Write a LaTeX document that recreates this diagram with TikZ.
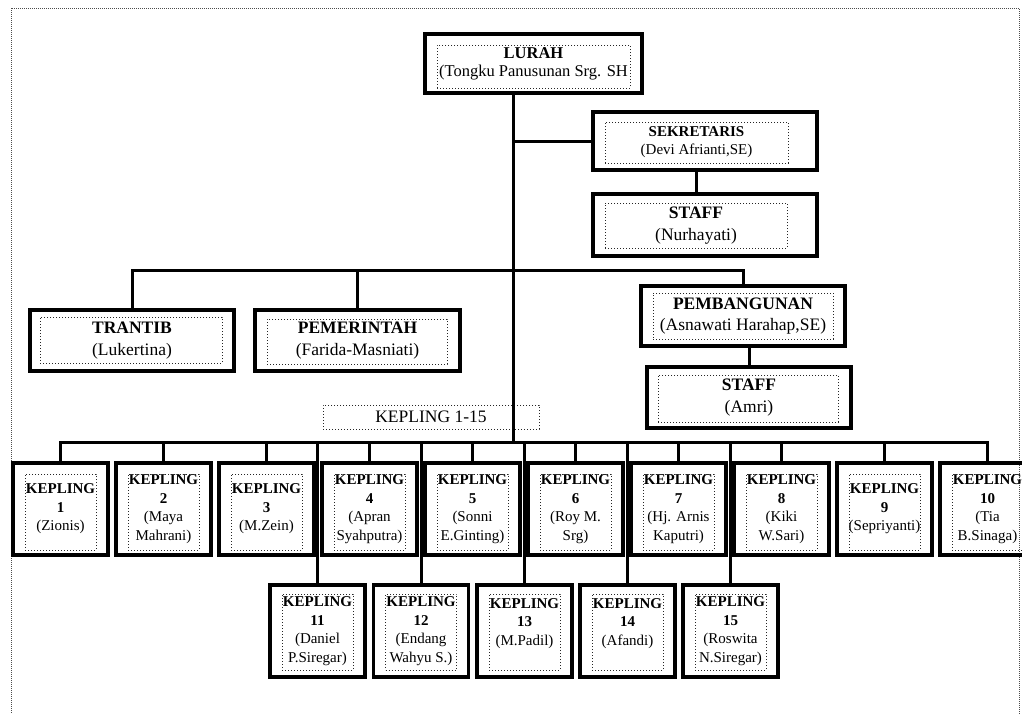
\documentclass[tikz,border=0pt]{standalone}
\usepackage{fontspec}
\setmainfont{Liberation Serif}
\newcommand\kep[5]{%
  \node[kout] (#1) at (#2,#3) {#5};
  \node[kin] (#1d) at (#2,#4) {};}
\begin{document}
\begin{tikzpicture}[x=1pt,y=-1pt,
  obox/.style={draw, line width=3.2pt, inner sep=0pt, align=center},
  ibox/.style={draw=black!85, dotted, line width=1pt, inner sep=0pt, align=center},
  conn/.style={line width=3pt, line cap=rect},
  big/.style={font=\fontsize{17.5}{21.5}\selectfont},
  kfont/.style={font=\fontsize{15}{18.5}\selectfont},
  kout/.style={obox, kfont, minimum width=95, minimum height=92},
  kin/.style={ibox, minimum width=71, minimum height=76}]

\useasboundingbox (0,0) rectangle (1022,713);
\draw[black!70, line width=1pt, dash pattern=on 1pt off 1pt] (11,8) rectangle (1019,730);

% top boxes
\node[obox, minimum width=217, minimum height=59, font=\fontsize{16.5}{18}\selectfont] (lurah) at (533.5,63.5) {\textbf{LURAH}\\(Tongku Panusunan Srg. SH};
\node[ibox, minimum width=193, minimum height=43] (lurahd) at (533.5,66.5) {};

\node[obox, minimum width=224, minimum height=58] (sek) at (705,141) {};
\node[ibox, minimum width=183, minimum height=41, font=\fontsize{15}{18}\selectfont] (sekd) at (696.5,142.5) {\textbf{SEKRETARIS}\\(Devi Afrianti,SE)};

\node[obox, minimum width=224, minimum height=62] (staffa) at (705,225) {};
\node[ibox, big, minimum width=182, minimum height=45] (staffad) at (696,225.5) {\textbf{STAFF}\\(Nurhayati)};

\node[obox, big, minimum width=204, minimum height=61] (trantib) at (132,340.5) {\textbf{TRANTIB}\\(Lukertina)};
\node[ibox, minimum width=182, minimum height=46] (trantibd) at (131,340) {};

\node[obox, big, minimum width=205, minimum height=61] (pemer) at (357.5,340.5) {\textbf{PEMERINTAH}\\(Farida-Masniati)};
\node[ibox, minimum width=180, minimum height=45] (pemerd) at (357,341.5) {};

\node[obox, big, minimum width=204, minimum height=60] (pemb) at (743,316) {\textbf{PEMBANGUNAN}\\(Asnawati Harahap,SE)};
\node[ibox, minimum width=180, minimum height=46] (pembd) at (743,316) {};

\node[obox, big, minimum width=204, minimum height=61] (staffb) at (749,397.5) {\textbf{STAFF}\\(Amri)};
\node[ibox, minimum width=180, minimum height=47] (staffbd) at (748,398.5) {};

\node[ibox, font=\fontsize{17.5}{20}\selectfont, minimum width=216, minimum height=24] (kall) at (431,417) {KEPLING 1-15};

% kepling row 1
\kep{k1}{60.5}{509}{512}{\textbf{KEPLING}\\\textbf{1}\\(Zionis)}
\kep{k2}{163.5}{509}{512}{\textbf{KEPLING}\\\textbf{2}\\(Maya\\Mahrani)}
\kep{k3}{266.5}{509}{512}{\textbf{KEPLING}\\\textbf{3}\\(M.Zein)}
\kep{k4}{369.5}{509}{512}{\textbf{KEPLING}\\\textbf{4}\\(Apran\\Syahputra)}
\kep{k5}{472.5}{509}{512}{\textbf{KEPLING}\\\textbf{5}\\(Sonni\\E.Ginting)}
\kep{k6}{575.5}{509}{512}{\textbf{KEPLING}\\\textbf{6}\\(Roy M.\\Srg)}
\kep{k7}{678.5}{509}{512}{\textbf{KEPLING}\\\textbf{7}\\(Hj. Arnis\\Kaputri)}
\kep{k8}{781.5}{509}{512}{\textbf{KEPLING}\\\textbf{8}\\(Kiki\\W.Sari)}
\kep{k9}{884.5}{509}{512}{\textbf{KEPLING}\\\textbf{9}\\(Sepriyanti)}
\kep{k10}{987.5}{509}{512}{\textbf{KEPLING}\\\textbf{10}\\(Tia\\B.Sinaga)}
% kepling row 2
\kep{k11}{317.5}{631}{632}{\textbf{KEPLING}\\\textbf{11}\\(Daniel\\P.Siregar)}
\kep{k12}{421}{631}{632}{\textbf{KEPLING}\\\textbf{12}\\(Endang\\Wahyu S.)}
\kep{k13}{524.5}{631}{632}{\textbf{KEPLING}\\\textbf{13}\\(M.Padil)\\~}
\kep{k14}{627.5}{631}{632}{\textbf{KEPLING}\\\textbf{14}\\(Afandi)\\~}
\kep{k15}{730.5}{631}{632}{\textbf{KEPLING}\\\textbf{15}\\(Roswita\\N.Siregar)}

% connectors
\coordinate (bus) at (513,442);
\coordinate (hb) at (513,270);
\draw[conn] (lurah.south -| bus) -- (bus);
\draw[conn] (sek.west) -- (sek.west -| bus);
\draw[conn] (sek.south -| sekd) -- (staffa.north -| sekd);
\draw[conn] (trantib.north) -- (trantib.north |- hb) -- (pemb.north |- hb) -- (pemb.north);
\draw[conn] (pemer.north) -- (pemer.north |- hb);
\draw[conn] (pemb.south -| staffb) -- (staffb.north);
\draw[conn] (k1.north |- bus) -- (k10.north |- bus);
\foreach \k in {k1,k2,k3,k4,k5,k6,k7,k8,k9,k10,k11,k12,k13,k14,k15}
  \draw[conn] (\k.north) -- (\k.north |- bus);
\end{tikzpicture}
\end{document}
